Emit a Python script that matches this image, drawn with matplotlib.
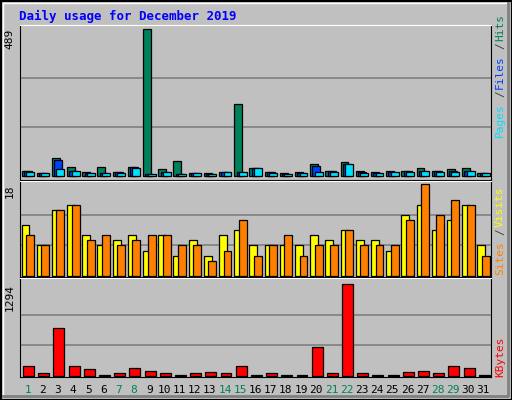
import matplotlib
matplotlib.use("Agg")
import matplotlib.pyplot as plt
from matplotlib.patches import Rectangle
import numpy as np

days = list(range(1, 32))
hits  = [18,11,61,31,14,31,14,31,489,24,51,11,11,14,240,28,14,11,14,41,18,48,18,14,18,18,28,18,24,28,11]
files = [18,10,54,18,10,11,14,31,8,14,8,11,8,14,14,28,14,8,11,34,18,41,14,11,14,18,18,18,18,18,11]
pages = [13,10,24,18,10,10,11,28,8,14,8,11,8,14,14,28,11,8,11,14,14,41,11,11,14,14,18,14,14,18,11]
sites  = [10,6,13,14,8,6,7,8,5,8,4,7,4,8,9,6,6,6,6,8,7,9,7,7,5,12,14,9,11,14,6]
visits = [8,6,13,14,7,8,6,7,8,8,6,6,3,5,11,4,6,8,4,6,6,9,6,6,6,11,18,12,15,14,4]
kbytes = [142,33,670,142,90,14,33,104,71,33,14,33,47,33,142,14,33,14,14,401,33,1294,33,14,14,47,61,33,142,104,14]
weekend = [1,7,8,14,15,21,22,28,29]
month = "December 2019"

W, H = 512, 400
fig = plt.figure(figsize=(W/100, H/100), dpi=100, facecolor="#C0C0C0")
mono = "DejaVu Sans Mono"

def px(x0, y0, x1, y1):
    return [x0/W, 1-y1/H, (x1-x0)/W, (y1-y0)/H]

fig.add_artist(Rectangle((0.5/W, 0.5/H), (W-1)/W, (H-1)/H, transform=fig.transFigure, fill=False, ec="black", lw=1.5))
fig.add_artist(plt.Line2D([3/W, 3/W, (W-4)/W], [3/H, (H-3)/H, (H-3)/H], transform=fig.transFigure, color="white", lw=1))
fig.add_artist(plt.Line2D([3/W, (W-4)/W, (W-4)/W], [4/H, 4/H, (H-3)/H], transform=fig.transFigure, color="#808080", lw=2))

x = np.arange(31)

def setup(ax, ymax, lo, hi):
    ax.set_facecolor("#C0C0C0")
    ax.set_xlim(0, 31)
    ax.set_ylim(lo, hi)
    for s in ax.spines.values():
        s.set_color("black")
    ax.spines["top"].set_color("white")
    ax.set_xticks([]); ax.set_yticks([])
    for f in (1/3, 2/3):
        ax.axhline(ymax*f, color="#808080", lw=1.2, zorder=0)
    ax.text(-0.012, ymax, str(ymax), transform=ax.get_yaxis_transform(), rotation=90,
            ha="right", va="top", fontsize=8, family=mono)

kw = dict(align="edge", edgecolor="black", lw=0.9)

ax1 = fig.add_axes(px(20, 25, 491, 180))
setup(ax1, 489, -13, 502)
ax1.bar(x+0.1, hits, 0.52, color="#00805C", **kw)
ax1.bar(x+0.25, files, 0.52, color="#0040FF", **kw)
ax1.bar(x+0.4, pages, 0.52, color="#00E0FF", **kw)

ax2 = fig.add_axes(px(20, 181, 491, 277))
setup(ax2, 18, -0.2, 18.65)
ax2.bar(x+0.1, sites, 0.52, color="#FFFF00", **kw)
ax2.bar(x+0.4, visits, 0.52, color="#FF8000", **kw)

ax3 = fig.add_axes(px(20, 278, 491, 377))
setup(ax3, 1294, -20, 1379)
ax3.bar(x+0.2, kbytes, 0.72, color="#FF0000", **kw)

for d in days:
    ax3.text(d-0.5, -0.13, str(d), transform=ax3.get_xaxis_transform(), ha="center", va="center",
             fontsize=8, family=mono, color="#00805C" if d in weekend else "black")

fig.text(19/W, 1-16/H, "Daily usage for " + month, color="#0000FF", fontsize=9,
         fontweight="bold", family=mono, va="center")

def rlabel(parts, xpx, ybot, step=6.7):
    y = ybot
    for txt, col in parts:
        fig.text(xpx/W, 1-y/H, txt, rotation=90, color=col, fontsize=8, family=mono,
                 ha="center", va="bottom")
        y -= len(txt)*step
rlabel([("Pages", "#00E0FF"), ("/", "#404040"), ("Files", "#0040FF"), ("/", "#404040"), ("Hits", "#00805C")], 500, 137, 8.0)
rlabel([("Sites", "#FF8000"), ("/", "#404040"), ("Visits", "#FFFF00")], 500, 275, 8.0)
rlabel([("KBytes", "#FF0000")], 500, 377)

fig.savefig("out.png", dpi=100, facecolor=fig.get_facecolor())
